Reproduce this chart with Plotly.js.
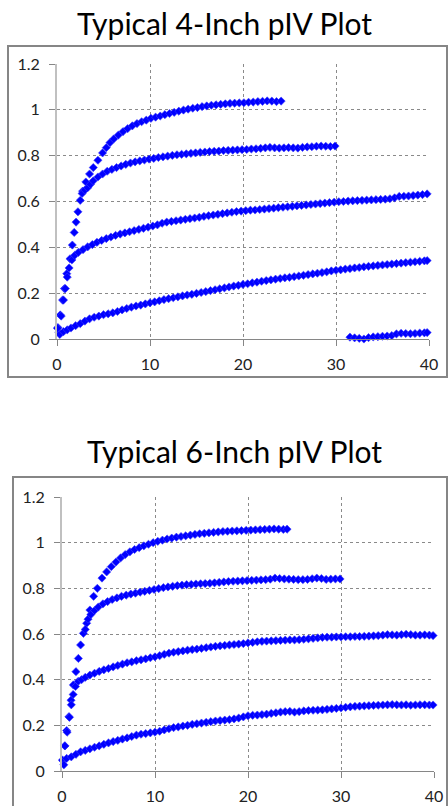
<!DOCTYPE html>
<html>
<head>
<meta charset="utf-8">
<script src="https://cdn.plot.ly/plotly-3.0.1.min.js"></script>
<style>html,body{margin:0;padding:0;background:#fff;}#chart{width:448px;height:806px;}</style>
</head>
<body>
<div id="chart"></div>
<script>
// ---------- titles & ticks ----------
const title4 = "Typical 4-Inch pIV Plot";
const title6 = "Typical 6-Inch pIV Plot";
const xTickVals = [0, 10, 20, 30, 40];
const yTickVals = [0, 0.2, 0.4, 0.6, 0.8, 1, 1.2];
const yTickText = ["0", "0.2", "0.4", "0.6", "0.8", "1", "1.2"];

// ---------- 4-inch plot ----------
const x4A = [0.1,0.35,0.6,0.8,1.05,1.4,1.65,1.85,2.05,2.25,2.5,2.75,3.1,3.5,3.9,4.4,4.9,5.3,5.7,6.1,6.6,7.1,7.6,8.1,8.6,9.1,9.6,10.1,10.6,11.1,11.6,12.1,12.6,13.1,13.6,14.1,14.6,15.1,15.6,16.1,16.6,17.1,17.6,18.1,18.6,19.1,19.6,20.1,20.6,21.1,21.6,22.1,22.6,23.1,23.6,24.1];
const y4A = [0.05,0.105,0.17,0.22,0.285,0.35,0.41,0.465,0.51,0.555,0.605,0.645,0.685,0.72,0.748,0.78,0.812,0.835,0.857,0.873,0.89,0.905,0.918,0.93,0.94,0.948,0.955,0.963,0.968,0.973,0.979,0.984,0.989,0.994,0.999,1.003,1.007,1.01,1.014,1.017,1.02,1.022,1.024,1.026,1.028,1.029,1.03,1.031,1.033,1.034,1.036,1.037,1.039,1.038,1.036,1.038];

const x4B = [2.7,3.0,3.3,3.6,3.9,4.4,4.9,5.4,5.9,6.4,6.9,7.4,7.9,8.4,8.9,9.4,9.9,10.4,10.9,11.4,11.9,12.4,12.9,13.4,13.9,14.4,14.9,15.4,15.9,16.4,16.9,17.4,17.9,18.4,18.9,19.4,19.9,20.4,20.9,21.4,21.9,22.4,22.9,23.4,23.9,24.4,24.9,25.4,25.9,26.4,26.9,27.4,27.9,28.4,28.9,29.4,29.9];
const y4B = [0.635,0.65,0.66,0.675,0.69,0.707,0.72,0.732,0.74,0.748,0.755,0.762,0.768,0.773,0.777,0.781,0.785,0.788,0.792,0.795,0.798,0.801,0.804,0.806,0.808,0.81,0.812,0.814,0.816,0.818,0.819,0.82,0.822,0.823,0.824,0.825,0.826,0.827,0.829,0.83,0.832,0.834,0.836,0.834,0.833,0.834,0.835,0.834,0.833,0.836,0.838,0.839,0.841,0.842,0.841,0.84,0.842];

const x4C = [0.2,0.45,0.7,0.9,1.1,1.3,1.6,1.9,2.3,2.8,3.3,3.8,4.3,4.8,5.3,5.8,6.3,6.8,7.3,7.8,8.3,8.8,9.3,9.8,10.3,10.8,11.3,11.8,12.3,12.8,13.3,13.8,14.3,14.8,15.3,15.8,16.3,16.8,17.3,17.8,18.3,18.8,19.3,19.8,20.3,20.8,21.3,21.8,22.3,22.8,23.3,23.8,24.3,24.8,25.3,25.8,26.3,26.8,27.3,27.8,28.3,28.8,29.3,29.8,30.3,30.8,31.3,31.8,32.3,32.8,33.3,33.8,34.3,34.8,35.3,35.8,36.3,36.8,37.3,37.8,38.3,38.8,39.3,39.8];
const y4C = [0.03,0.1,0.17,0.22,0.27,0.31,0.345,0.365,0.378,0.39,0.402,0.412,0.422,0.43,0.438,0.445,0.452,0.458,0.463,0.468,0.473,0.478,0.483,0.488,0.493,0.498,0.505,0.51,0.513,0.516,0.519,0.522,0.525,0.528,0.531,0.535,0.538,0.541,0.544,0.547,0.55,0.553,0.556,0.558,0.56,0.562,0.563,0.565,0.567,0.569,0.571,0.573,0.575,0.577,0.579,0.581,0.583,0.585,0.587,0.589,0.591,0.593,0.595,0.597,0.599,0.6,0.602,0.603,0.604,0.605,0.606,0.607,0.608,0.609,0.61,0.612,0.616,0.622,0.623,0.624,0.626,0.628,0.63,0.633];

const x4D = [0.05,0.3,0.7,1.1,1.5,2.0,2.5,3.0,3.5,4.0,4.5,5.0,5.5,6.0,6.5,7.0,7.5,8.0,8.5,9.0,9.5,10.0,10.5,11.0,11.5,12.0,12.5,13.0,13.5,14.0,14.5,15.0,15.5,16.0,16.5,17.0,17.5,18.0,18.5,19.0,19.5,20.0,20.5,21.0,21.5,22.0,22.5,23.0,23.5,24.0,24.5,25.0,25.5,26.0,26.5,27.0,27.5,28.0,28.5,29.0,29.5,30.0,30.5,31.0,31.5,32.0,32.5,33.0,33.5,34.0,34.5,35.0,35.5,36.0,36.5,37.0,37.5,38.0,38.5,39.0,39.5,39.8];
const y4D = [0.047,0.02,0.032,0.04,0.048,0.058,0.067,0.078,0.088,0.095,0.1,0.106,0.11,0.114,0.12,0.127,0.133,0.139,0.144,0.148,0.153,0.158,0.162,0.167,0.172,0.176,0.18,0.184,0.188,0.192,0.195,0.199,0.203,0.207,0.211,0.215,0.219,0.223,0.227,0.231,0.234,0.238,0.241,0.245,0.248,0.252,0.255,0.258,0.261,0.264,0.267,0.269,0.272,0.275,0.278,0.281,0.284,0.287,0.29,0.293,0.297,0.3,0.302,0.305,0.307,0.31,0.312,0.315,0.317,0.319,0.321,0.323,0.325,0.327,0.329,0.331,0.333,0.335,0.337,0.339,0.341,0.342];

const x4E = [31.5,32.0,32.5,33.0,33.5,34.0,34.5,35.0,35.5,36.0,36.5,37.0,37.5,38.0,38.5,39.0,39.5,39.8];
const y4E = [0.008,0.005,0.003,0.0,0.006,0.009,0.01,0.012,0.013,0.015,0.022,0.025,0.024,0.023,0.024,0.026,0.027,0.028];

// ---------- 6-inch plot ----------
const x6A = [0.1,0.32,0.5,0.75,0.97,1.22,1.5,1.76,2.0,2.3,2.65,3.0,3.4,3.8,4.3,4.8,5.3,5.8,6.3,6.8,7.3,7.8,8.3,8.8,9.3,9.8,10.3,10.8,11.3,11.8,12.3,12.8,13.3,13.8,14.3,14.8,15.3,15.8,16.3,16.8,17.3,17.8,18.3,18.8,19.3,19.8,20.3,20.8,21.3,21.8,22.3,22.8,23.3,23.8,24.2];
const y6A = [0.045,0.11,0.177,0.238,0.31,0.377,0.435,0.493,0.552,0.603,0.647,0.705,0.765,0.8,0.845,0.872,0.895,0.915,0.933,0.948,0.96,0.97,0.978,0.986,0.993,1.0,1.006,1.011,1.016,1.02,1.024,1.027,1.03,1.033,1.036,1.039,1.041,1.043,1.045,1.047,1.049,1.05,1.051,1.052,1.053,1.054,1.055,1.056,1.057,1.058,1.059,1.06,1.059,1.058,1.059];

const x6B = [2.5,2.8,3.1,3.5,3.9,4.4,4.9,5.4,5.9,6.4,6.9,7.4,7.9,8.4,8.9,9.4,9.9,10.4,10.9,11.4,11.9,12.4,12.9,13.4,13.9,14.4,14.9,15.4,15.9,16.4,16.9,17.4,17.9,18.4,18.9,19.4,19.9,20.4,20.9,21.4,21.9,22.4,22.9,23.4,23.9,24.4,24.9,25.4,25.9,26.4,26.9,27.4,27.9,28.4,28.9,29.4,29.9];
const y6B = [0.62,0.665,0.685,0.703,0.718,0.732,0.742,0.751,0.758,0.765,0.77,0.775,0.779,0.783,0.787,0.791,0.795,0.799,0.803,0.806,0.809,0.812,0.814,0.816,0.817,0.819,0.82,0.821,0.822,0.824,0.826,0.828,0.83,0.831,0.832,0.833,0.834,0.835,0.836,0.837,0.838,0.84,0.845,0.843,0.841,0.84,0.839,0.838,0.838,0.839,0.842,0.845,0.843,0.839,0.84,0.841,0.841];

const x6C = [0.3,0.55,0.8,1.0,1.2,1.45,1.75,2.1,2.5,3.0,3.5,4.0,4.5,5.0,5.5,6.0,6.5,7.0,7.5,8.0,8.5,9.0,9.5,10.0,10.5,11.0,11.5,12.0,12.5,13.0,13.5,14.0,14.5,15.0,15.5,16.0,16.5,17.0,17.5,18.0,18.5,19.0,19.5,20.0,20.5,21.0,21.5,22.0,22.5,23.0,23.5,24.0,24.5,25.0,25.5,26.0,26.5,27.0,27.5,28.0,28.5,29.0,29.5,30.0,30.5,31.0,31.5,32.0,32.5,33.0,33.5,34.0,34.5,35.0,35.5,36.0,36.5,37.0,37.5,38.0,38.5,39.0,39.5,39.9];
const y6C = [0.11,0.17,0.235,0.29,0.335,0.37,0.393,0.4,0.41,0.42,0.428,0.436,0.443,0.449,0.456,0.462,0.468,0.474,0.478,0.483,0.487,0.491,0.496,0.5,0.505,0.511,0.516,0.52,0.523,0.526,0.529,0.532,0.534,0.537,0.54,0.543,0.546,0.548,0.55,0.552,0.554,0.556,0.558,0.561,0.563,0.566,0.568,0.569,0.57,0.571,0.572,0.573,0.574,0.574,0.575,0.577,0.579,0.581,0.583,0.585,0.586,0.586,0.587,0.587,0.588,0.588,0.589,0.589,0.59,0.591,0.592,0.593,0.595,0.597,0.596,0.595,0.597,0.599,0.597,0.595,0.595,0.596,0.595,0.593];

const x6D = [0.05,0.2,0.5,1.0,1.5,2.0,2.5,3.0,3.5,4.0,4.5,5.0,5.5,6.0,6.5,7.0,7.5,8.0,8.5,9.0,9.5,10.0,10.5,11.0,11.5,12.0,12.5,13.0,13.5,14.0,14.5,15.0,15.5,16.0,16.5,17.0,17.5,18.0,18.5,19.0,19.5,20.0,20.5,21.0,21.5,22.0,22.5,23.0,23.5,24.0,24.5,25.0,25.5,26.0,26.5,27.0,27.5,28.0,28.5,29.0,29.5,30.0,30.5,31.0,31.5,32.0,32.5,33.0,33.5,34.0,34.5,35.0,35.5,36.0,36.5,37.0,37.5,38.0,38.5,39.0,39.5,39.9];
const y6D = [0.048,0.027,0.055,0.062,0.073,0.084,0.09,0.097,0.104,0.11,0.117,0.123,0.129,0.134,0.14,0.145,0.151,0.157,0.161,0.164,0.167,0.17,0.174,0.18,0.185,0.19,0.193,0.197,0.2,0.204,0.207,0.21,0.213,0.216,0.219,0.221,0.223,0.225,0.228,0.232,0.237,0.242,0.244,0.245,0.247,0.249,0.252,0.255,0.258,0.26,0.261,0.258,0.26,0.263,0.265,0.266,0.267,0.268,0.27,0.272,0.274,0.276,0.279,0.281,0.283,0.284,0.285,0.286,0.287,0.288,0.289,0.29,0.291,0.29,0.289,0.29,0.288,0.289,0.29,0.29,0.289,0.289];

// ---------- build ----------
const W = 448, H = 806;
const px = v => v / W;
const py = v => 1 - v / H;
const markerStyle = {symbol: "diamond", size: 6.3, color: "#0000ff", line: {width: 0.6, color: "#3a3aff"}};

function series(x, y, xa, ya) {
  return {x: x, y: y, xaxis: xa, yaxis: ya, type: "scatter", mode: "markers",
          marker: markerStyle, cliponaxis: false, showlegend: false, hoverinfo: "skip"};
}

const data = [
  series(x4A, y4A, "x", "y"), series(x4B, y4B, "x", "y"), series(x4C, y4C, "x", "y"),
  series(x4D, y4D, "x", "y"), series(x4E, y4E, "x", "y"),
  series(x6A, y6A, "x2", "y2"), series(x6B, y6B, "x2", "y2"), series(x6C, y6C, "x2", "y2"),
  series(x6D, y6D, "x2", "y2")
];

const tickFont = {family: "Lato, 'Open Sans', sans-serif", size: 16, color: "#222"};
function xAxis(d, anchor) {
  return {domain: d, anchor: anchor, range: [0, 40], tickmode: "array", tickvals: xTickVals,
          showgrid: true, gridcolor: "#8a8a8a", griddash: "dot", gridwidth: 1,
          showline: true, linecolor: "#868686", linewidth: 1, zeroline: false,
          ticks: "outside", ticklen: 6, tickcolor: "#868686", tickwidth: 1,
          tickfont: tickFont, ticklabelstandoff: 5, fixedrange: true};
}
function yAxis(d, anchor) {
  return {domain: d, anchor: anchor, range: [0, 1.2], tickmode: "array", tickvals: yTickVals,
          ticktext: yTickText, showgrid: true, gridcolor: "#8a8a8a", griddash: "dot", gridwidth: 1,
          showline: true, linecolor: "#c0c0c0", linewidth: 2, zeroline: false,
          ticks: "outside", ticklen: 6, tickcolor: "#868686", tickwidth: 1,
          tickfont: tickFont, ticklabelstandoff: 6, fixedrange: true};
}

const titleFont = {family: "Lato, 'Open Sans', sans-serif", size: 30, color: "#000"};

const layout = {
  width: W, height: H,
  margin: {l: 0, r: 0, t: 0, b: 0},
  paper_bgcolor: "#fff", plot_bgcolor: "#fff",
  showlegend: false,
  xaxis: xAxis([px(57), px(429)], "y"),
  yaxis: yAxis([py(339), py(64)], "x"),
  xaxis2: xAxis([px(62), px(434)], "y2"),
  yaxis2: yAxis([py(771), py(497)], "x2"),
  shapes: [
    {type: "rect", xref: "paper", yref: "paper", x0: px(8), x1: px(447), y0: py(377), y1: py(46),
     line: {color: "#868686", width: 2}, layer: "below"},
    {type: "rect", xref: "paper", yref: "paper", x0: px(13), x1: px(447), y0: py(812), y1: py(477),
     line: {color: "#868686", width: 2}, layer: "below"}
  ],
  annotations: [
    {text: title4, xref: "paper", yref: "paper", x: px(224), y: py(23), xanchor: "center", yanchor: "middle",
     showarrow: false, font: titleFont},
    {text: title6, xref: "paper", yref: "paper", x: px(234), y: py(451), xanchor: "center", yanchor: "middle",
     showarrow: false, font: titleFont}
  ]
};

Plotly.newPlot("chart", data, layout, {displayModeBar: false, staticPlot: true});
</script>
</body>
</html>
